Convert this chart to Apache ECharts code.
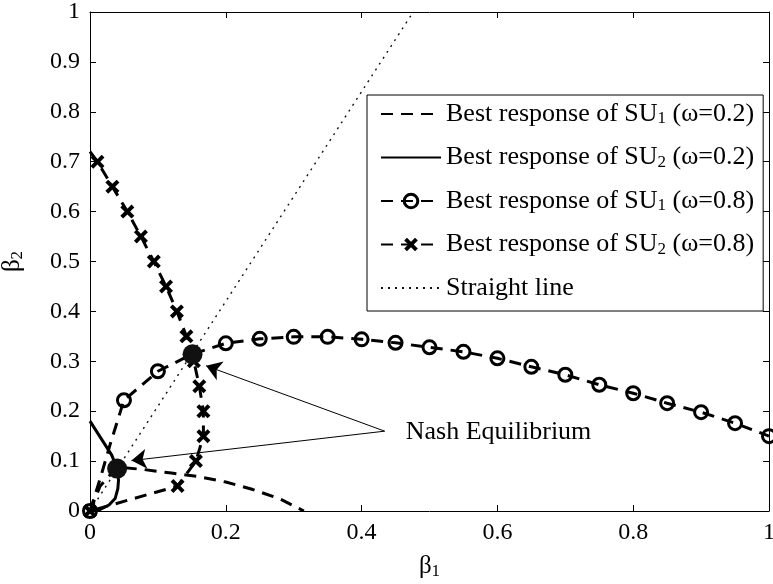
<!DOCTYPE html>
<html>
<head>
<meta charset="utf-8">
<script src="https://cdn.jsdelivr.net/npm/echarts@6/dist/echarts.min.js"></script>
<style>
  html, body { margin: 0; padding: 0; background: #fff; }
  #chart { width: 773px; height: 584px; }
</style>
</head>
<body>
<div id="chart"></div>
<script>
  // best responses, as [beta1, beta2] pairs
  const su1Low = [[0, 0], [0.015, 0.05], [0.04, 0.088], [0.08, 0.083], [0.12, 0.076], [0.16, 0.069],
    [0.2, 0.058], [0.24, 0.043], [0.28, 0.024], [0.315, 0]];
  const su2Low = [[0, 0.18], [0.016, 0.146], [0.032, 0.112], [0.04, 0.085], [0.042, 0.062], [0.041, 0.045],
    [0.037, 0.025], [0.028, 0.012], [0.015, 0.003], [0, 0]];
  const su1High = [[0, 0], [0.015, 0.065], [0.03, 0.135], [0.05, 0.222], [0.1, 0.28], [0.15, 0.314],
    [0.2, 0.336], [0.25, 0.345], [0.3, 0.349], [0.35, 0.349], [0.4, 0.344], [0.45, 0.337], [0.5, 0.328],
    [0.55, 0.319], [0.6, 0.306], [0.65, 0.289], [0.7, 0.273], [0.75, 0.253], [0.8, 0.236], [0.85, 0.216],
    [0.9, 0.198], [0.95, 0.176], [1, 0.15]];
  const su2High = [[0, 0.72], [0.011, 0.7], [0.033, 0.65], [0.055, 0.6], [0.075, 0.55], [0.094, 0.5],
    [0.112, 0.45], [0.128, 0.4], [0.142, 0.35], [0.153, 0.3], [0.161, 0.25], [0.167, 0.2], [0.167, 0.15],
    [0.156, 0.1], [0.129, 0.05], [0, 0]];
  const straightLine = [[0, 0], [0.476, 1]];
  const equilibria = [[0.04, 0.085], [0.151, 0.314]];
  const arrowFrom = [0.434, 0.16];
  const arrowTo = [[0.171, 0.291], [0.061, 0.101]];
  const nashText = 'Nash Equilibrium';
  const nashTextAt = [0.465, 0.158];

  const legendNames = ['su1-0.2', 'su2-0.2', 'su1-0.8', 'su2-0.8', 'straight'];
  const legendLabels = {
    'su1-0.2': 'Best response of SU{s|1} (ω=0.2)',
    'su2-0.2': 'Best response of SU{s|2} (ω=0.2)',
    'su1-0.8': 'Best response of SU{s|1} (ω=0.8)',
    'su2-0.8': 'Best response of SU{s|2} (ω=0.8)',
    'straight': 'Straight line'
  };
  const noMarker = ['su1-0.2', 'su2-0.2', 'straight'];

  const font = 'Liberation Serif';
  const subStyle = { fontFamily: font, fontSize: 17, color: '#000', verticalAlign: 'bottom', padding: [10, 0, 0, 0] };
  const crossPath = 'path://M0,2 L2,0 L5,3 L8,0 L10,2 L7,5 L10,8 L8,10 L5,7 L2,10 L0,8 L3,5 Z';

  // markers only sit on the 0.05 grid of the swept variable
  const onGrid = (v) => Math.abs(v * 20 - Math.round(v * 20)) < 1e-6;
  const withMarks = (pts, idx) => pts.map((p) => (onGrid(p[idx]) ? p : { value: p, symbol: 'none' }));

  const legendItem = (n) => {
    if (noMarker.includes(n)) {
      return { name: n, itemStyle: { color: 'rgba(0,0,0,0)', borderWidth: 0, opacity: 0 } };
    }
    if (n === 'su1-0.8') {
      return { name: n, itemStyle: { color: 'rgba(0,0,0,0)', borderColor: '#000', borderWidth: 3 } };
    }
    return { name: n };
  };

  const chart = echarts.init(document.getElementById('chart'));

  const axisLine = { onZero: false, lineStyle: { color: '#000', width: 1 } };
  const tick = { inside: true, length: 6, lineStyle: { color: '#000', width: 1 } };
  const tickLabel = { fontFamily: font, fontSize: 24, color: '#000' };

  const option = {
    animation: false,
    backgroundColor: '#fff',
    grid: { left: 90, right: 4, top: 12, bottom: 73, outerBoundsMode: 'none', containLabel: false },
    xAxis: [
      {
        type: 'value', min: 0, max: 1, interval: 0.2, position: 'bottom',
        axisLine, axisTick: tick, splitLine: { show: false },
        axisLabel: Object.assign({ margin: 10 }, tickLabel),
        name: 'β{s|1}', nameLocation: 'middle', nameGap: 42,
        nameTextStyle: { fontFamily: font, fontSize: 25, color: '#000', rich: { s: subStyle } }
      },
      {
        type: 'value', min: 0, max: 1, interval: 0.2, position: 'top',
        axisLine, axisTick: tick, splitLine: { show: false }, axisLabel: { show: false }
      }
    ],
    yAxis: [
      {
        type: 'value', min: 0, max: 1, interval: 0.1, position: 'left',
        axisLine, axisTick: tick, splitLine: { show: false },
        axisLabel: Object.assign({ margin: 10 }, tickLabel),
        name: 'β{s|2}', nameLocation: 'middle', nameGap: 64,
        nameTextStyle: { fontFamily: font, fontSize: 25, color: '#000', rich: { s: subStyle } }
      },
      {
        type: 'value', min: 0, max: 1, interval: 0.1, position: 'right',
        axisLine, axisTick: tick, splitLine: { show: false }, axisLabel: { show: false }
      }
    ],
    legend: {
      data: legendNames.map(legendItem),
      orient: 'vertical',
      left: 367,
      top: 95,
      itemWidth: 60,
      itemHeight: 17,
      itemGap: 17,
      padding: [6, 9, 10, 13],
      backgroundColor: '#fff',
      borderColor: '#000',
      borderWidth: 1,
      borderRadius: 0,
      selectedMode: false,
      formatter: (name) => legendLabels[name],
      textStyle: { fontFamily: font, fontSize: 26, color: '#000', rich: { s: subStyle } }
    },
    series: [
      {
        name: 'su1-0.2', type: 'line', data: su1Low, symbol: 'none',
        lineStyle: { color: '#000', width: 3, type: [12, 8] }, itemStyle: { color: '#000' }, z: 3
      },
      {
        name: 'su2-0.2', type: 'line', data: su2Low, symbol: 'none',
        lineStyle: { color: '#000', width: 3, type: 'solid' }, itemStyle: { color: '#000' }, z: 3
      },
      {
        name: 'su1-0.8', type: 'line', data: withMarks(su1High, 0),
        symbol: 'circle', symbolSize: 13, showAllSymbol: true,
        lineStyle: { color: '#000', width: 3, type: [12, 8] },
        itemStyle: { color: 'rgba(0,0,0,0)', borderColor: '#000', borderWidth: 3 }, z: 4
      },
      {
        name: 'su2-0.8', type: 'line', data: withMarks(su2High, 1),
        symbol: crossPath, symbolSize: 14, showAllSymbol: true,
        lineStyle: { color: '#000', width: 3, type: [12, 8] },
        itemStyle: { color: '#000', borderWidth: 0 }, z: 4
      },
      {
        name: 'straight', type: 'line', data: straightLine, symbol: 'none',
        lineStyle: { color: '#111', width: 1.4, type: [2, 5] }, itemStyle: { color: '#111' }, z: 2
      },
      {
        name: 'ne', type: 'scatter', data: equilibria, symbol: 'circle', symbolSize: 20,
        itemStyle: { color: '#111', opacity: 1 }, z: 6,
        markLine: {
          silent: true,
          symbol: ['none', 'arrow'],
          symbolSize: 15,
          label: { show: false },
          lineStyle: { color: '#000', width: 1, type: 'solid', opacity: 1 },
          itemStyle: { color: '#000' },
          data: arrowTo.map((t) => [{ coord: arrowFrom }, { coord: t }])
        }
      }
    ]
  };

  chart.setOption(option);

  const at = chart.convertToPixel({ gridIndex: 0 }, nashTextAt);
  chart.setOption({
    graphic: [{
      type: 'text', x: at[0], y: at[1],
      style: { text: nashText, fontFamily: font, fontSize: 26, fill: '#000', verticalAlign: 'middle', align: 'left' }
    }]
  });

  window.addEventListener('resize', () => chart.resize());
</script>
</body>
</html>
